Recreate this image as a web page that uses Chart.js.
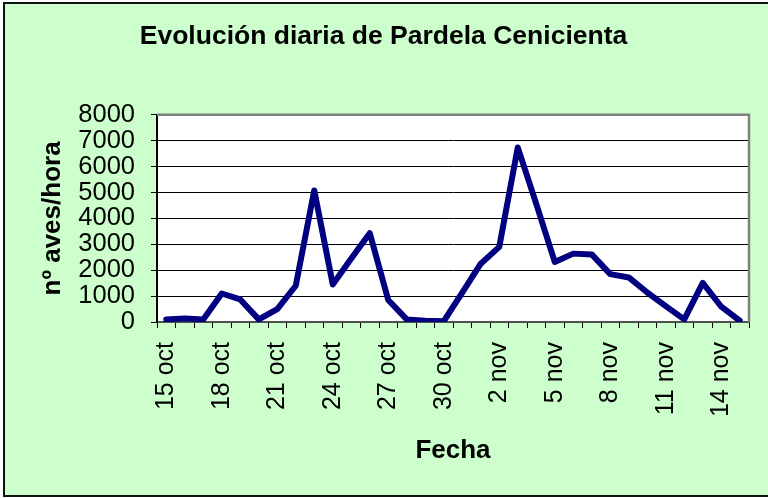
<!DOCTYPE html>
<html>
<head>
<meta charset="utf-8">
<script src="https://cdn.jsdelivr.net/npm/chart.js@4/dist/chart.umd.min.js"></script>
<style>
  html, body { margin: 0; padding: 0; background: #fff; overflow: hidden; }
  #frame {
    position: absolute; left: 3px; top: 2px; width: 790px; height: 491px;
    background: #ccffcc; border: 2px solid #111;
  }
  #wrap { position: absolute; left: 0; top: 0; width: 768px; height: 498px; }
</style>
</head>
<body>
<div id="frame"></div>
<div id="wrap"><canvas id="chart"></canvas></div>
<script>
const days = [
  "15 oct", "16 oct", "17 oct", "18 oct", "19 oct", "20 oct", "21 oct", "22 oct",
  "23 oct", "24 oct", "25 oct", "26 oct", "27 oct", "28 oct", "29 oct", "30 oct",
  "31 oct", "1 nov", "2 nov", "3 nov", "4 nov", "5 nov", "6 nov", "7 nov",
  "8 nov", "9 nov", "10 nov", "11 nov", "12 nov", "13 nov", "14 nov", "15 nov"
];
const avesHora = [
  100, 140, 100, 1100, 870, 100, 500, 1400,
  5080, 1450, 2450, 3430, 850, 100, 50, 30,
  1130, 2250, 2900, 6740, 4560, 2320, 2640, 2610,
  1850, 1720, 1140, 615, 100, 1510, 590, 50
];
const yMax = 8000;
const yStep = 1000;

const FONT = "'Liberation Sans', Arial, sans-serif";

// white plot area with grey 3D edge on top/right, like the old Excel chart
const plotArea = {
  id: "plotArea",
  beforeDraw(chart) {
    const { ctx, chartArea: a } = chart;
    ctx.save();
    ctx.fillStyle = "#fff";
    ctx.fillRect(a.left, a.top, a.right - a.left, a.bottom - a.top);
    ctx.restore();
  },
  afterDraw(chart) {
    const { ctx, chartArea: a } = chart;
    ctx.save();
    ctx.strokeStyle = "#808080";
    ctx.lineWidth = 2.5;
    ctx.beginPath();
    ctx.moveTo(a.left, a.top);
    ctx.lineTo(a.right, a.top);
    ctx.lineTo(a.right, a.bottom);
    ctx.stroke();
    ctx.restore();
  }
};

new Chart(document.getElementById("chart"), {
  type: "line",
  data: {
    labels: days,
    datasets: [{
      label: "nº aves/hora",
      data: avesHora,
      borderColor: "#000080",
      borderWidth: 6,
      borderJoinStyle: "round",
      borderCapStyle: "round",
      pointRadius: 0,
      tension: 0,
      fill: false
    }]
  },
  options: {
    responsive: true,
    maintainAspectRatio: false,
    animation: false,
    layout: { padding: { left: 18, right: 19, top: 0, bottom: 28 } },
    plugins: {
      legend: { display: false },
      tooltip: { enabled: false },
      title: {
        display: true,
        text: "Evolución diaria de Pardela Cenicienta",
        color: "#000",
        font: { family: FONT, size: 26.5, weight: "bold" },
        padding: { top: 21, bottom: 62 }
      }
    },
    scales: {
      x: {
        offset: true,
        grid: { offset: true, drawOnChartArea: false, color: "#000", tickLength: 6, tickWidth: 1 },
        border: { color: "#505050", width: 2 },
        ticks: {
          autoSkip: false, minRotation: 90, maxRotation: 90, padding: 14,
          color: "#000", font: { family: FONT, size: 25 },
          callback: (v, i) => (i % 3 === 0 ? days[i] : "")
        },
        title: {
          display: true, text: "Fecha", color: "#000",
          font: { family: FONT, size: 26, weight: "bold" },
          padding: { top: 0, bottom: 4 }
        },
        afterFit: s => { s.height = 148; s.paddingLeft = 0; s.paddingRight = 0; }
      },
      y: {
        min: 0, max: yMax,
        grid: { color: "#000", lineWidth: 1, tickLength: 6 },
        border: { color: "#000", width: 2 },
        ticks: {
          stepSize: yStep, autoSkip: false, padding: 16,
          color: "#000", font: { family: FONT, size: 25.5 },
          callback: v => String(v)
        },
        title: {
          display: true, text: "nº aves/hora", color: "#000",
          font: { family: FONT, size: 26, weight: "bold" },
          padding: { top: 19, bottom: 0 }
        },
        afterFit: s => { s.width = 139; }
      }
    }
  },
  plugins: [plotArea]
});
</script>
</body>
</html>
